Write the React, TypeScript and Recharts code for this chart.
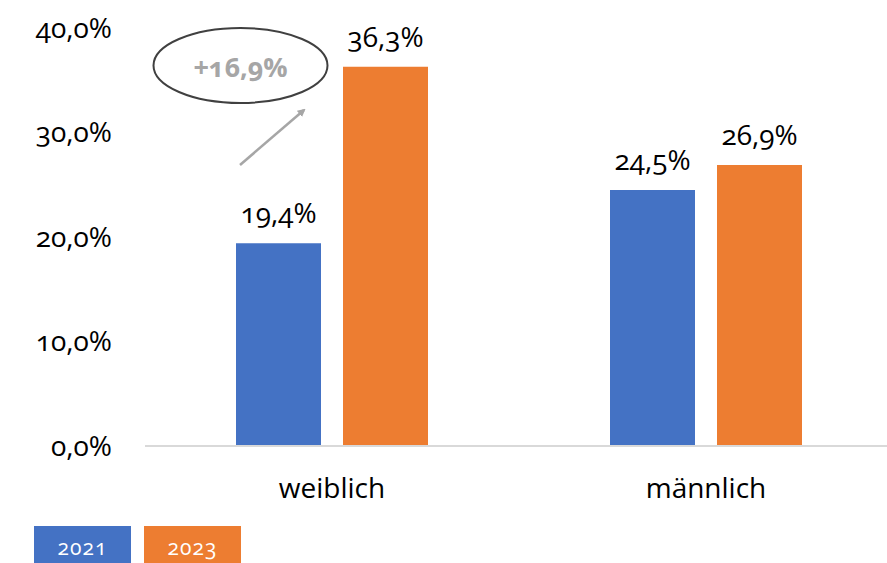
import React from 'react'
import { BarChart, Bar, XAxis, YAxis, LabelList } from 'recharts'

const categories = ['weiblich', 'männlich']
const values2021 = [19.4, 24.5]
const values2023 = [36.3, 26.9]
const yTicks = [0, 10, 20, 30, 40]
const seriesNames = ['2021', '2023']
const seriesColors = ['#4472C4', '#ED7D31']
const deltaLabel = '+16,9%'

const data = categories.map((c, i) => ({ name: c, a: values2021[i], b: values2023[i] }))

const FONT = '"Open Sans", sans-serif'
const pct = (v: number) => v.toFixed(1).replace('.', ',') + '%'
const textStyle = { fontSize: 28, fill: '#000', fontFamily: FONT, fontWeight: 400 }

export default function App() {
  return (
    <div style={{ position: 'absolute', left: 0, top: 0, width: 887, height: 563, background: '#fff', fontFamily: FONT, fontVariantNumeric: 'oldstyle-nums', overflow: 'hidden' }}>
      <BarChart
        width={887}
        height={563}
        data={data}
        margin={{ top: 28, right: -6, left: 0, bottom: 67 }}
        barGap={22}
        barSize={85}
      >
        <XAxis
          dataKey="name"
          height={50}
          axisLine={{ stroke: '#d9d9d9', strokeWidth: 2 }}
          tickLine={false}
          tickSize={0}
          tickMargin={32}
          tick={textStyle}
        />
        <YAxis
          width={145}
          domain={[0, 40]}
          ticks={yTicks}
          axisLine={false}
          tickLine={false}
          tickSize={0}
          tickMargin={33}
          tickFormatter={pct}
          tick={textStyle}
        />
        <Bar dataKey="a" name={seriesNames[0]} fill={seriesColors[0]} isAnimationActive={false}>
          <LabelList dataKey="a" position="top" offset={20} formatter={(v: any) => pct(Number(v))} style={textStyle} />
        </Bar>
        <Bar dataKey="b" name={seriesNames[1]} fill={seriesColors[1]} isAnimationActive={false}>
          <LabelList dataKey="b" position="top" offset={20} formatter={(v: any) => pct(Number(v))} style={textStyle} />
        </Bar>
      </BarChart>

      {/* Annotation: ellipse and arrow */}
      <svg width={887} height={563} style={{ position: 'absolute', left: 0, top: 0, pointerEvents: 'none' }}>
        <defs>
          <marker id="arr" markerWidth="8" markerHeight="8" refX="6" refY="4" orient="auto" markerUnits="userSpaceOnUse">
            <path d="M0,0 L8,4 L0,8 z" fill="#a6a6a6" />
          </marker>
        </defs>
        <ellipse cx={240.5} cy={65.5} rx={87} ry={37.5} fill="none" stroke="#404040" strokeWidth={2} />
        <text x={240.5} y={70} textAnchor="middle" dominantBaseline="middle" fontSize={27} fontWeight={700} fill="#a6a6a6" fontFamily={FONT}>{deltaLabel}</text>
        <line x1={240} y1={165} x2={304} y2={110} stroke="#a6a6a6" strokeWidth={2.5} markerEnd="url(#arr)" />
      </svg>

      {/* Legend */}
      {seriesNames.map((n, i) => (
        <div key={n} style={{ position: 'absolute', top: 526, left: 34 + i * 110, width: 97, height: 40, background: seriesColors[i], color: '#fff', fontSize: 21, textAlign: 'center', lineHeight: '42px', letterSpacing: 1 }}>
          {n}
        </div>
      ))}
    </div>
  )
}
